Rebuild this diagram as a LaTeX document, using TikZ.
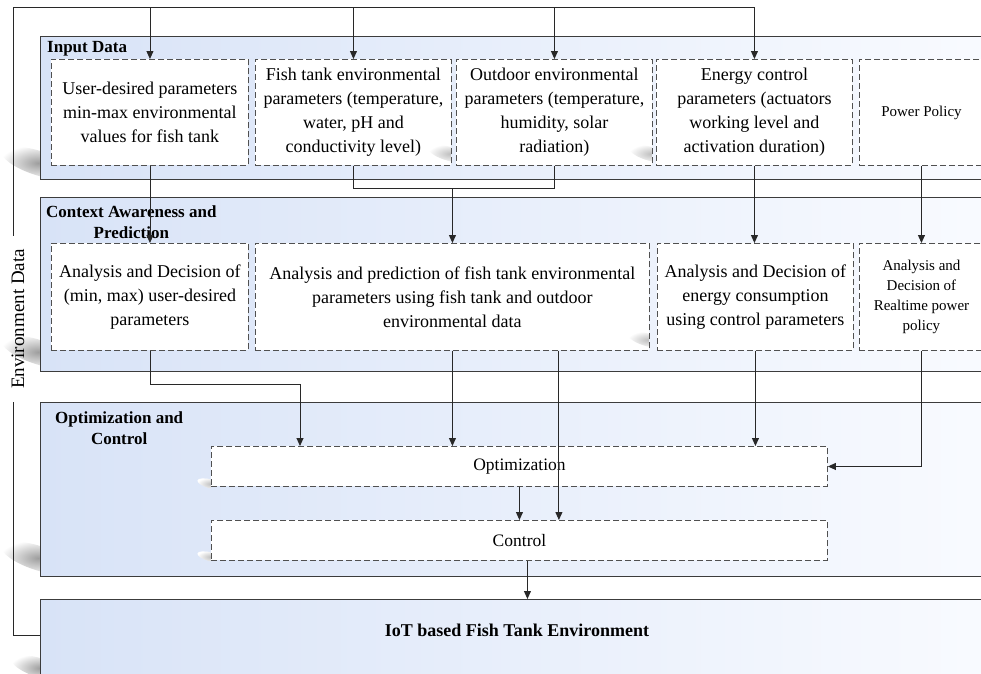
\documentclass[tikz,border=0pt]{standalone}
\usepackage{fontspec}
\setmainfont{Liberation Serif}
\usetikzlibrary{arrows.meta,calc}
\definecolor{panelL}{RGB}{216,227,247}
\definecolor{panelR}{RGB}{249,251,255}
\definecolor{frameC}{RGB}{60,60,60}
\definecolor{dashC}{RGB}{80,80,80}
\definecolor{wireC}{RGB}{40,40,40}
% soft shadow streak: clip box corners, ellipse centre, radii, tilt, strength
\newcommand\softstreak[6]{%
  \begin{scope}
    \clip #1 rectangle #2;
    \shade[inner color=black!#6, outer color=white, rotate around={#5:#3}]
      #3 ellipse [x radius=#4, y radius=0.32*#4];
  \end{scope}}
\begin{document}
\begin{tikzpicture}[x=1pt,y=-1pt,
  panel/.style={draw=frameC, line width=1pt, left color=panelL, right color=panelR,
    anchor=north west, inner sep=0pt, minimum width=960pt},
  dbox/.style={draw=dashC, line width=0.9pt, dash pattern=on 6pt off 3pt, fill=white,
    anchor=north west, inner sep=2pt, align=center, font=\fontsize{18}{24}\selectfont},
  plabel/.style={anchor=north west, align=center, inner sep=0pt,
    font=\fontsize{17}{21}\selectfont\bfseries},
  wire/.style={draw=wireC, line width=0.9pt},
  arr/.style={wire, -{Triangle[length=8pt,width=7pt]}}
]
\useasboundingbox (0,0) rectangle (981,673);
\clip (0,0) rectangle (981,673);

% soft shadows beside the layer panels
\softstreak{(0,125)}{(40,180)}{(38,163)}{38pt}{-18}{38}
\softstreak{(0,315)}{(40,372)}{(38,352)}{38pt}{-18}{38}
\softstreak{(0,520)}{(40,577)}{(38,558)}{38pt}{-18}{38}
\softstreak{(0,640)}{(40,673)}{(40,668)}{30pt}{-18}{38}

% layer panels
\node[panel, minimum height=143pt] (pIn)  at (40,36)  {};
\node[panel, minimum height=174pt] (pCtx) at (40,197) {};
\node[panel, minimum height=174pt] (pOpt) at (40,402) {};
\node[panel, minimum height=110pt] (pIoT) at (40,599) {};

% panel titles
\node[plabel] (lIn)  at (47,41)  {Input Data};
\node[plabel] (lCtx) at (46,205) {Context Awareness and\\Prediction};
\node[plabel] (lOpt) at (55,411) {Optimization and\\Control};
\node[font=\fontsize{18}{22}\selectfont\bfseries] (lIoT) at (517,630)
  {IoT based Fish Tank Environment};

% input data
\node[dbox, minimum width=197pt, minimum height=106pt] (in1) at (51,59)
  {User-desired parameters\\min-max environmental\\values for fish tank};
\node[dbox, minimum width=196pt, minimum height=106pt] (in2) at (255,59)
  {Fish tank environmental\\parameters (temperature,\\water, pH and\\conductivity level)};
\node[dbox, minimum width=196pt, minimum height=106pt] (in3) at (456,59)
  {Outdoor environmental\\parameters (temperature,\\humidity, solar\\radiation)};
\node[dbox, minimum width=196pt, minimum height=106pt] (in4) at (656,59)
  {Energy control\\parameters (actuators\\working level and\\activation duration)};
\node[dbox, minimum width=124pt, minimum height=106pt,
  font=\fontsize{15}{18}\selectfont] (in5) at (859,59) {Power Policy};

% context awareness and prediction
\node[dbox, minimum width=197pt, minimum height=107pt] (ctx1) at (51,243)
  {Analysis and Decision of\\(min, max) user-desired\\parameters};
\node[dbox, minimum width=394pt, minimum height=107pt] (ctx2) at (255,243)
  {Analysis and prediction of fish tank environmental\\parameters using fish tank and outdoor\\environmental data};
\node[dbox, minimum width=196pt, minimum height=107pt] (ctx3) at (657,243)
  {Analysis and Decision of\\energy consumption\\using control parameters};
\node[dbox, minimum width=124pt, minimum height=107pt,
  font=\fontsize{15}{20}\selectfont] (ctx4) at (859,243)
  {Analysis and\\Decision of\\Realtime power\\policy};

% optimization and control
\node[dbox, minimum width=616pt, minimum height=40pt,
  font=\fontsize{17.5}{21}\selectfont] (opt) at (211,446) {Optimization};
\node[dbox, minimum width=616pt, minimum height=40pt,
  font=\fontsize{17.5}{21}\selectfont] (ctl) at (211,520) {Control};

% small shadows near box corners
\softstreak{(425,140)}{(450.5,164.5)}{(450,154)}{22pt}{-15}{25}
\softstreak{(627,140)}{(651.5,164.5)}{(651,154)}{22pt}{-15}{25}
\softstreak{(626,325)}{(648.5,349.5)}{(648,340)}{20pt}{-15}{25}
\softstreak{(196,474)}{(210.5,490)}{(211,484)}{14pt}{-15}{25}
\softstreak{(196,548)}{(210.5,562)}{(211,557)}{14pt}{-15}{25}

% environment data feedback loop
\node[rotate=90, inner xsep=13pt, font=\fontsize{19}{22}\selectfont] (env) at (18,319)
  {Environment Data};
\coordinate (fbEnd) at (40,635);
\coordinate (fbBL) at (13,635);
\coordinate (fbTL) at (13,7);
\draw[wire] (fbEnd) -- (fbBL) -- (fbBL |- env.west);
\draw[arr] (fbBL |- env.east) -- (fbTL) -| (in4.north);
\foreach \b in {in1,in2,in3} \draw[arr] (\b.north |- fbTL) -- (\b.north);

% input data -> context awareness
\coordinate (join) at (0,188);
\draw[arr] (in1.south) -- (ctx1.north);
\draw[wire] (in2.south) -- (in2.south |- join) -| (in3.south);
\draw[arr] (ctx2.north |- join) -- (ctx2.north);
\draw[arr] (in4.south) -- (in4.south |- ctx3.north);
\draw[arr] (in5.south) -- (ctx4.north);

% context awareness -> optimization and control
\coordinate (c1turn) at (300,384);
\coordinate (c2b) at ($(ctx2.south east)+(-91,0)$);
\draw[arr] (ctx1.south) |- (c1turn) -- (c1turn |- opt.north);
\draw[arr] (ctx2.south) -- (ctx2.south |- opt.north);
\draw[arr] (c2b) -- (c2b |- ctl.north);
\draw[arr] (ctx3.south) -- (ctx3.south |- opt.north);
\draw[arr] (ctx4.south) |- (opt.east);
\draw[arr] (opt.south) -- (ctl.north);
\coordinate (ctlOut) at ($(ctl.south)+(8,0)$);
\draw[arr] (ctlOut) -- (ctlOut |- pIoT.north);
\end{tikzpicture}
\end{document}
